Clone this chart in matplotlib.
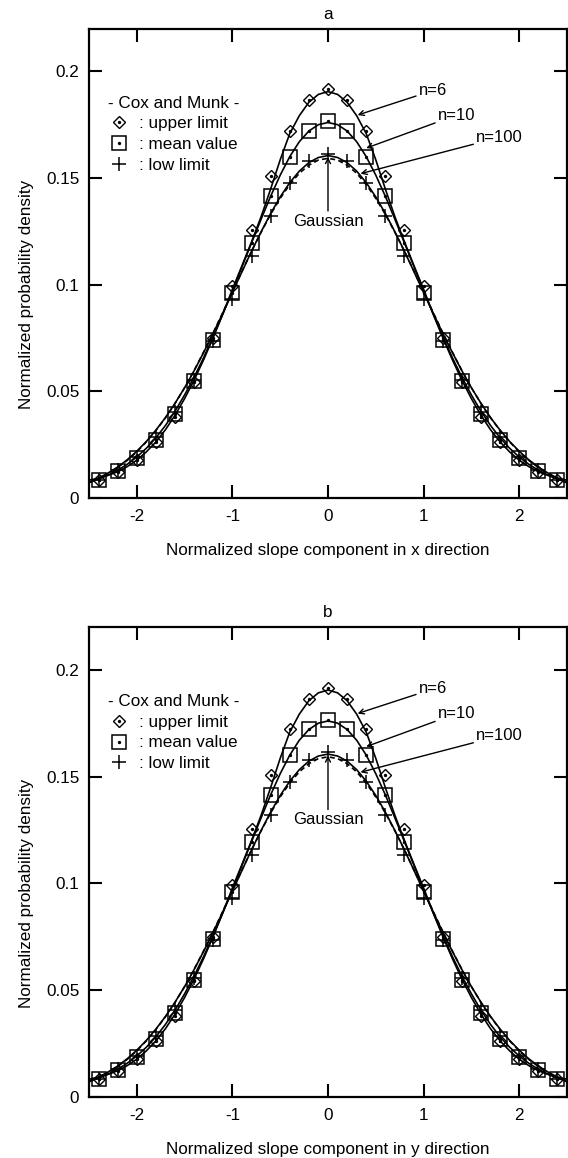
import numpy as np
import matplotlib
matplotlib.use("Agg")
import matplotlib.pyplot as plt
from matplotlib.lines import Line2D
from matplotlib.legend_handler import HandlerTuple

plt.rcParams["font.family"] = ["Liberation Sans", "DejaVu Sans"]
plt.rcParams["font.size"] = 12.3

# Cox and Munk values (symmetric, given for x >= 0)
cm_x = [0.0, 0.2, 0.4, 0.6, 0.8, 1.0, 1.2, 1.4, 1.6, 1.8, 2.0, 2.2, 2.4]
cm_upper = [0.1916, 0.1865, 0.1722, 0.1507, 0.1254, 0.0992, 0.0749,
            0.0542, 0.0379, 0.0259, 0.0175, 0.0119, 0.0081]
cm_mean = [0.1765, 0.1722, 0.1599, 0.1414, 0.1193, 0.0961, 0.0741,
           0.0548, 0.0391, 0.0272, 0.0184, 0.0123, 0.0082]
cm_low = [0.1613, 0.1578, 0.1476, 0.1321, 0.1133, 0.0930, 0.0733,
          0.0554, 0.0404, 0.0284, 0.0193, 0.0128, 0.0082]

# model curves (symmetric, given for x >= 0)
curve_x = [0.0, 0.1, 0.2, 0.3, 0.4, 0.5, 0.6, 0.7, 0.8, 0.9, 1.0, 1.1, 1.2,
           1.3, 1.4, 1.5, 1.6, 1.7, 1.8, 1.9, 2.0, 2.1, 2.2, 2.3, 2.4, 2.5]
n6 = [0.1905, 0.1892, 0.1855, 0.1792, 0.1708, 0.1585, 0.1448, 0.1318,
      0.1200, 0.1088, 0.0978, 0.0862, 0.0752, 0.0648, 0.0552, 0.0465,
      0.0387, 0.0319, 0.0262, 0.0215, 0.0176, 0.0146, 0.0122, 0.0105,
      0.0092, 0.0082]
n10 = [0.1760, 0.1750, 0.1720, 0.1670, 0.1600, 0.1513, 0.1414, 0.1306,
       0.1195, 0.1083, 0.0970, 0.0862, 0.0757, 0.0658, 0.0566, 0.0482,
       0.0406, 0.0339, 0.0281, 0.0232, 0.0191, 0.0157, 0.0129, 0.0106,
       0.0087, 0.0072]
n100 = [0.1605, 0.1596, 0.1572, 0.1532, 0.1478, 0.1411, 0.1333, 0.1247,
        0.1156, 0.1060, 0.0963, 0.0866, 0.0772, 0.0682, 0.0596, 0.0516,
        0.0443, 0.0376, 0.0317, 0.0264, 0.0218, 0.0178, 0.0144, 0.0116,
        0.0092, 0.0073]
gauss = [0.1592, 0.1584, 0.1560, 0.1522, 0.1469, 0.1404, 0.1329, 0.1245,
         0.1156, 0.1062, 0.0965, 0.0869, 0.0775, 0.0684, 0.0597, 0.0516,
         0.0442, 0.0375, 0.0315, 0.0262, 0.0215, 0.0175, 0.0142, 0.0113,
         0.0089, 0.0070]

yticks = [0, 0.05, 0.1, 0.15, 0.2]
ytick_labels = ["0", "0.05", "0.1", "0.15", "0.2"]
xticks = [-2, -1, 0, 1, 2]


def mirror(x, y):
    x = np.asarray(x)
    y = np.asarray(y)
    return np.r_[-x[:0:-1], x], np.r_[y[:0:-1], y]


def draw_panel(ax, title, xlabel):
    lw = 1.2
    for vals in (n6, n10, n100):
        xx, yy = mirror(curve_x, vals)
        ax.plot(xx, yy, color="k", lw=lw)
    xx, yy = mirror(curve_x, gauss)
    ax.plot(xx, yy, color="k", lw=lw, dashes=(3, 2))

    mx, up = mirror(cm_x, cm_upper)
    _, me = mirror(cm_x, cm_mean)
    _, lo = mirror(cm_x, cm_low)
    ax.plot(mx, up, ls="none", marker="D", ms=6.4, mfc="none", mec="k", mew=1.0)
    ax.plot(mx, up, ls="none", marker="o", ms=1.4, color="k")
    ax.plot(mx, me, ls="none", marker="s", ms=9.5, mfc="none", mec="k", mew=1.1)
    ax.plot(mx, me, ls="none", marker="o", ms=1.4, color="k")
    ax.plot(mx, lo, ls="none", marker="+", ms=10, mec="k", mew=1.1)

    # legend: open marker with a centre dot
    dot = Line2D([], [], ls="none", marker="o", ms=1.4, color="k")
    h_up = Line2D([], [], ls="none", marker="D", ms=6.4, mfc="none", mec="k", mew=1.0)
    h_me = Line2D([], [], ls="none", marker="s", ms=9.5, mfc="none", mec="k", mew=1.1)
    h_lo = Line2D([], [], ls="none", marker="+", ms=10, mec="k", mew=1.1)
    ax.legend([(h_up, dot), (h_me, dot), h_lo],
              [": upper limit", ": mean value", ": low limit"],
              handler_map={tuple: HandlerTuple(ndivide=1, pad=0)},
              title="- Cox and Munk -", title_fontsize=12.3,
              loc="upper left", bbox_to_anchor=(0.04, 0.857),
              frameon=False, handlelength=1.3, handletextpad=0.5,
              labelspacing=0.33, borderpad=0, borderaxespad=0,
              alignment="left")

    # curve annotations
    arrow = dict(arrowstyle="->", color="k", lw=1.0,
                 shrinkA=0, shrinkB=0, mutation_scale=9)
    ax.annotate("n=6", xy=(0.31, 0.1795), xytext=(0.95, 0.191),
                ha="left", va="center", fontsize=12, arrowprops=arrow)
    ax.annotate("n=10", xy=(0.40, 0.1640), xytext=(1.15, 0.1795),
                ha="left", va="center", fontsize=12, arrowprops=arrow)
    ax.annotate("n=100", xy=(0.34, 0.1520), xytext=(1.55, 0.169),
                ha="left", va="center", fontsize=12, arrowprops=arrow)
    ax.annotate("", xy=(0, 0.1598), xytext=(0, 0.1345), arrowprops=arrow)
    ax.text(0, 0.1298, "Gaussian", ha="center", va="center", fontsize=12)

    ax.set_xlim(-2.5, 2.5)
    ax.set_ylim(0, 0.22)
    ax.set_xticks(xticks)
    ax.set_xticklabels([str(t) for t in xticks])
    ax.set_yticks(yticks)
    ax.set_yticklabels(ytick_labels)
    ax.tick_params(direction="in", length=9.5, width=1.5, top=True, right=True,
                   labelsize=12.3)
    ax.tick_params(axis="x", pad=8)
    ax.tick_params(axis="y", pad=7)
    for s in ax.spines.values():
        s.set_linewidth(1.6)
    ax.set_title(title, fontsize=12.3, pad=7)
    ax.set_xlabel(xlabel, fontsize=12.3, labelpad=14)
    ax.set_ylabel("Normalized probability density", fontsize=12.3)
    ax.yaxis.set_label_coords(-0.115, 0.434)


fig = plt.figure(figsize=(5.68, 11.58), dpi=100)
ax_a = fig.add_axes([0.1567, 0.5702, 0.8415, 0.405])
ax_b = fig.add_axes([0.1567, 0.0529, 0.8415, 0.4056])
draw_panel(ax_a, "a", "Normalized slope component in x direction")
draw_panel(ax_b, "b", "Normalized slope component in y direction")
fig.savefig("out.png", dpi=100)
